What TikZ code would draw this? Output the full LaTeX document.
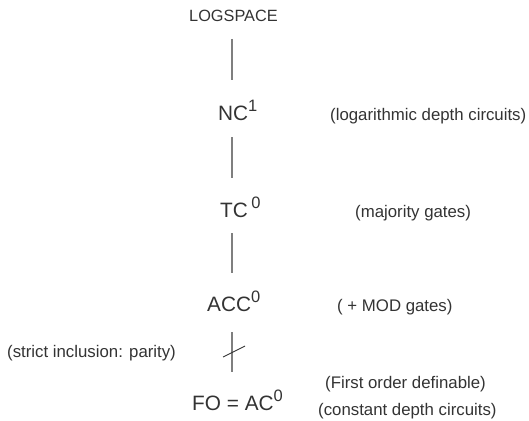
\documentclass[tikz,border=0pt]{standalone}
\usepackage{fontspec}
\setmainfont{Liberation Sans}
\definecolor{ink}{HTML}{333333}
\definecolor{edge}{HTML}{7F7F7F}
\newcommand{\upidx}[1]{\raisebox{0.42em}{\fontsize{16.5}{16.5}\selectfont #1}}
\tikzset{
  classname/.style={anchor=base west, inner sep=0pt, font=\fontsize{20.8}{24}\selectfont, text=ink},
  remark/.style={anchor=base west, inner sep=0pt, font=\fontsize{16.8}{20}\selectfont, text=ink},
  link/.style={draw=edge, line width=1.2pt}
}
\begin{document}
\begin{tikzpicture}[x=1pt, y=-1pt]
  \useasboundingbox (0,0) rectangle (529,420);

  % complexity classes, top to bottom
  \node[classname, font=\fontsize{16.3}{19}\selectfont] (logspace) at (189,22) {LOGSPACE};
  \node[classname] (nc)  at (218,120) {NC\upidx{1}};
  \node[classname] (tc)  at (220,217) {TC\,\upidx{0}};
  \node[classname] (acc) at (207,311) {ACC\upidx{0}};
  \node[classname] (fo)  at (192,410) {FO = AC\upidx{0}};

  % side remarks
  \node[remark] (ncnote)  at (330,120) {(logarithmic depth circuits)};
  \node[remark] (tcnote)  at (355,217) {(majority gates)};
  \node[remark] (accnote) at (337,311) {( + MOD gates)};
  \node[remark] (strict)  at (7,357)   {(strict inclusion: parity)};
  \node[remark] (fonote1) at (325,388) {(First order definable)};
  \node[remark] (fonote2) at (318,415) {(constant depth circuits)};

  % inclusion links
  \coordinate (a1) at (232,39);  \coordinate (b1) at (232,80);
  \coordinate (a2) at (232,137); \coordinate (b2) at (232,178);
  \coordinate (a3) at (232,233); \coordinate (b3) at (232,273);
  \coordinate (a4) at (232,332); \coordinate (b4) at (232,372);
  \coordinate (s1) at (223,357); \coordinate (s2) at (245,346);
  \draw[link] (a1) -- (b1);
  \draw[link] (a2) -- (b2);
  \draw[link] (a3) -- (b3);
  \draw[link] (a4) -- (b4);
  % strike-through marking the strict inclusion
  \draw[draw=ink, line width=0.9pt] (s1) -- (s2);
\end{tikzpicture}
\end{document}
